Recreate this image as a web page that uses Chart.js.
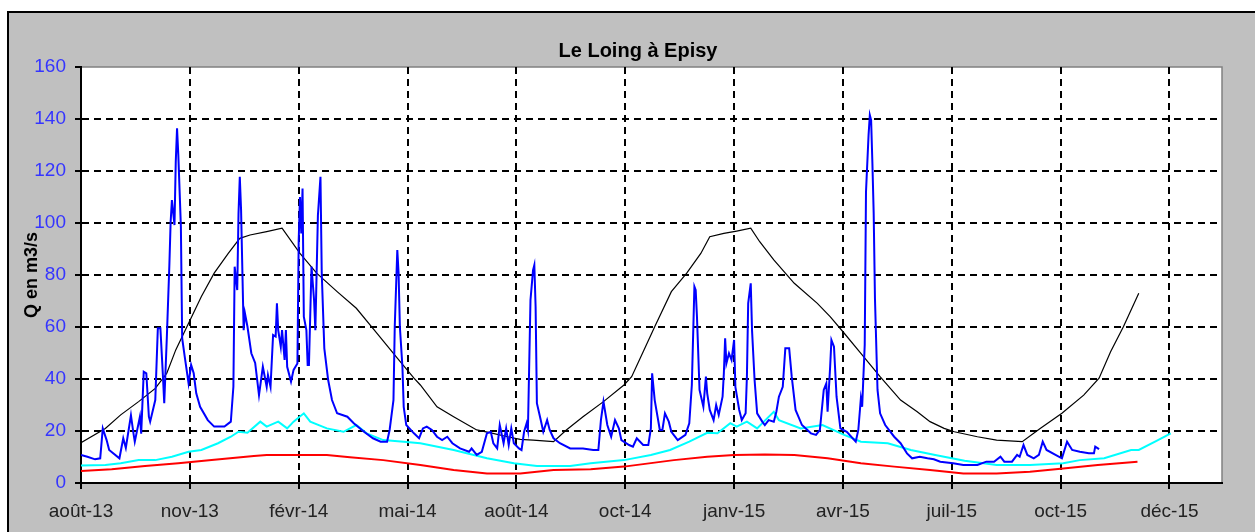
<!DOCTYPE html>
<html>
<head>
<meta charset="utf-8">
<script src="https://cdn.jsdelivr.net/npm/chart.js@4/dist/chart.umd.min.js"></script>
<style>
  body { margin: 0; background: #fff; }
  canvas { display: block; }
</style>
</head>
<body>
<canvas id="myChart" width="1255" height="532"></canvas>
<script>
// x axis: days since the first label, one label every 85 days
const tickLabels = ["août-13", "nov-13", "févr-14", "mai-14", "août-14", "oct-14",
  "janv-15", "avr-15", "juil-15", "oct-15", "déc-15"];
const tickStep = 85;
const dayMax = 891;

// daily flow (blue)
const flowDays = [0, 5, 11, 15, 17, 20, 22, 30, 33, 35, 39, 41, 42, 46, 47, 49, 51, 53, 54, 58,
  60, 62, 64, 65, 67, 69, 70, 71, 73, 74, 75, 76, 78, 79, 81, 84, 86, 88, 90, 93,
  99, 104, 112, 117, 119, 120, 122, 123, 124, 125, 127, 128, 130, 133, 136, 139, 142, 145, 146, 148,
  150, 152, 153, 154, 156, 157, 159, 160, 161, 164, 166, 169, 170, 171, 172, 173, 174, 176, 177, 178,
  180, 182, 183, 185, 187, 188, 190, 193, 196, 200, 208, 213, 221, 228, 234, 239, 241, 244, 245, 247,
  248, 249, 251, 252, 254, 260, 264, 267, 270, 274, 278, 282, 286, 290, 296, 303, 305, 309, 313, 317,
  320, 322, 325, 327, 330, 332, 334, 336, 338, 342, 344, 346, 348, 349, 351, 353, 354, 355, 356, 359,
  361, 364, 366, 369, 374, 382, 392, 400, 404, 406, 408, 411, 414, 417, 420, 422, 428, 431, 434, 439,
  443, 445, 446, 448, 452, 454, 456, 459, 461, 466, 472, 475, 477, 479, 480, 481, 483, 486, 488, 489,
  491, 494, 496, 498, 501, 502, 503, 504, 506, 508, 510, 511, 514, 516, 519, 520, 521, 523, 524, 526,
  528, 532, 534, 537, 541, 543, 545, 548, 550, 553, 555, 558, 563, 570, 574, 577, 580, 582, 583, 585,
  586, 588, 590, 593, 598, 605, 607, 609, 610, 612, 613, 615, 616, 617, 618, 619, 620, 622, 624, 628,
  635, 640, 645, 649, 655, 661, 666, 671, 681, 689, 700, 707, 713, 718, 721, 727, 731, 733, 736, 739,
  744, 748, 751, 754, 761, 766, 770, 774, 780, 787, 791, 792, 795];
const flowValues = [10.8, 10.1, 9.1, 9.5, 21, 16.5, 12.7, 9.5, 17.2, 13.5, 26, 19, 15.9, 25.5, 19, 42.8, 42.2, 25.5, 23.6, 31.9,
  59.5, 59.5, 40.9, 30.7, 55.7, 83.8, 100.5, 108.8, 99.2, 123.6, 136.4, 126, 98.6, 55.7, 48.6, 38.3, 45.4, 42.2, 34.5, 29.3,
  24.2, 21.7, 21.7, 23.6, 37, 83.2, 74.2, 103.7, 117.8, 105, 58.8, 65.3, 60.1, 49.9, 46.2, 33.8, 44.7, 37, 41.5, 37,
  56.9, 56.3, 69.1, 58.8, 52.4, 58.8, 47.3, 58.8, 44.7, 39, 43.5, 46, 93.5, 110, 96, 113.3, 64, 58.8, 45.4, 45.4,
  83.2, 70.4, 58.8, 103, 117.8, 80.7, 51.8, 39.6, 31.9, 26.8, 25.5, 23, 19.7, 17.2, 15.9, 15.9, 20.4, 31.9, 60.1, 89.6,
  80.7, 60.1, 44.7, 29.3, 22.3, 19.1, 17.2, 21, 21.7, 20.4, 17.8, 16.5, 17.8, 15.3, 13.3, 12, 13.3, 10.8, 12, 19.1,
  19.7, 15.3, 13.3, 22.3, 15.3, 21, 14.6, 21, 15.3, 13.3, 12.7, 19.7, 23, 20.4, 70.4, 81.9, 83.8, 67.8, 30.7, 24.2,
  19.7, 24.2, 20.4, 17.2, 15.3, 13.3, 13.3, 12.7, 12.7, 24.2, 31.3, 22.3, 17.8, 24.2, 21, 16.5, 14.6, 14, 17.2, 14.6,
  14.6, 21, 42.2, 31.9, 20.4, 20.4, 26.8, 23.6, 19.7, 16.5, 18.5, 23, 37.7, 75.5, 74.2, 64, 35.8, 29.3, 40.9, 34.5,
  28.1, 24.2, 30, 26.2, 33.2, 42.2, 55.7, 46, 49.9, 47.3, 55, 37, 28.1, 24.2, 26.8, 40.9, 69.1, 76.8, 58.8, 39.6,
  26.8, 23.6, 22.3, 24.2, 23.6, 27.4, 33.2, 37, 51.8, 51.8, 40.9, 28.1, 22.3, 19.1, 18.5, 20.4, 35.8, 38.3, 27.4, 44.7,
  55, 52.4, 33.2, 21, 19.7, 15.9, 20.4, 32.6, 29.3, 53.1, 112, 133.8, 141.5, 139.6, 123, 103.7, 71, 35.8, 26.8, 22.3,
  17.8, 15.3, 11.4, 9.5, 10.1, 9.5, 9.1, 8.2, 7.6, 6.9, 6.9, 8.2, 8.2, 10.1, 8.2, 8.2, 10.8, 10.1, 14.6, 10.8,
  9.5, 10.8, 15.9, 12.7, 10.8, 9.5, 15.9, 12.7, 12, 11.4, 11.4, 14, 13];

// monthly flow (black)
const monthDays = [0, 19, 31, 45, 58, 67, 74, 84, 94, 104, 115, 124, 132, 145, 157, 171, 184, 200, 215, 231,
  247, 260, 265, 278, 291, 309, 320, 333, 343, 353, 369, 379, 392, 408, 424, 430, 439, 448, 461, 473,
  484, 491, 502, 512, 523, 530, 541, 557, 575, 585, 596, 609, 624, 640, 653, 663, 674, 682, 700, 715,
  735, 749, 766, 783, 795, 804, 814, 826];
const monthValues = [15.5, 21, 26.2, 31.3, 36.4, 42.2, 51.2, 61.4, 71.7, 80.7, 88.3, 94.1, 95.4, 96.7, 98, 88.3, 80.7, 73.6, 67.2, 57.6,
  48, 40.3, 37.7, 29.3, 25.5, 20.4, 19.3, 17.8, 16.8, 16.5, 15.9, 20.4, 25.5, 31.3, 37.7, 40.9, 50.5, 60.1, 73.6, 80.7,
  88.3, 94.7, 96, 96.9, 98, 92.8, 85.8, 76.8, 69.1, 64, 57.6, 49.9, 40.9, 31.9, 27.4, 23.6, 21, 19.7, 17.8, 16.5,
  15.9, 21, 26.8, 33.8, 40.3, 50.5, 60.1, 73];

// cyan curve
const cyanDays = [0, 19, 31, 45, 58, 71, 84, 94, 107, 117, 123, 130, 140, 145, 154, 161, 166, 174, 179, 192,
  205, 215, 223, 236, 252, 265, 291, 317, 338, 356, 382, 398, 424, 445, 460, 475, 489, 497, 507, 512,
  520, 528, 534, 541, 545, 562, 579, 596, 609, 630, 648, 667, 690, 715, 741, 767, 780, 799, 820, 826,
  841, 851];
const cyanValues = [6.7, 6.9, 7.6, 8.8, 8.8, 10.1, 12, 12.7, 15.3, 17.8, 19.7, 19.3, 23.6, 21.7, 23.6, 21, 23.6, 26.8, 23.6, 21,
  19.7, 22.3, 19.1, 16.5, 15.9, 15.3, 12.7, 9.5, 7.6, 6.5, 6.5, 7.6, 8.8, 10.8, 12.7, 15.9, 19.3, 19.1, 23, 21.7,
  23.6, 21, 24, 27.4, 24.2, 21, 22.3, 18.5, 15.9, 15.3, 12.7, 10.8, 8.6, 6.9, 6.9, 7.6, 8.8, 9.5, 12.7, 12.7,
  16.5, 19.1];

// red curve
const redDays = [0, 24, 50, 76, 102, 135, 145, 192, 210, 236, 265, 291, 317, 343, 369, 398, 424, 463, 489, 510,
  534, 557, 583, 609, 635, 663, 689, 715, 741, 767, 794, 825];
const redValues = [4.6, 5.3, 6.5, 7.6, 8.8, 10.4, 10.8, 10.8, 9.9, 8.8, 6.9, 5, 3.7, 3.7, 5, 5.3, 6.3, 8.8, 10.1, 10.8,
  11, 10.8, 9.5, 7.6, 6.3, 5, 3.7, 3.7, 4.3, 5.6, 6.9, 8.2];

const yTicks = [0, 20, 40, 60, 80, 100, 120, 140, 160];

function points(days, values) {
  return days.map((d, i) => ({ x: d, y: values[i] }));
}

const font = "Arial, 'Liberation Sans', sans-serif";

const frame = {
  id: "frame",
  beforeDraw(chart) {
    const ctx = chart.ctx;
    const a = chart.chartArea;
    ctx.save();
    ctx.fillStyle = "#c0c0c0";
    ctx.fillRect(8, 12, chart.width - 8, chart.height - 12);
    ctx.strokeStyle = "#000";
    ctx.lineWidth = 2;
    ctx.beginPath();
    ctx.moveTo(8, chart.height);
    ctx.lineTo(8, 12);
    ctx.lineTo(chart.width, 12);
    ctx.stroke();
    ctx.fillStyle = "#fff";
    ctx.fillRect(a.left, a.top, a.right - a.left, a.bottom - a.top);
    ctx.strokeStyle = "#808080";
    ctx.lineWidth = 1.5;
    ctx.strokeRect(a.left, a.top, a.right - a.left, a.bottom - a.top);
    ctx.fillStyle = "#000";
    ctx.font = "bold 20px " + font;
    ctx.textAlign = "center";
    ctx.textBaseline = "middle";
    ctx.fillText("Le Loing à Episy", 638, 51);
    ctx.restore();
  }
};

const gridOpts = {
  color: (c) => (c.tick && c.tick.value === 160 ? "rgba(0,0,0,0)" : "#000"),
  lineWidth: 2,
  tickLength: 6,
  tickColor: "#000",
  tickWidth: 2
};
const borderOpts = { display: true, color: "#000", width: 2, dash: [7, 5] };

new Chart(document.getElementById("myChart"), {
  type: "line",
  data: {
    datasets: [
      { data: points(flowDays, flowValues), borderColor: "#0000ff", borderWidth: 2 },
      { data: points(monthDays, monthValues), borderColor: "#000000", borderWidth: 1.2 },
      { data: points(cyanDays, cyanValues), borderColor: "#00ffff", borderWidth: 2 },
      { data: points(redDays, redValues), borderColor: "#ff0000", borderWidth: 2 }
    ]
  },
  options: {
    responsive: false,
    animation: false,
    events: [],
    elements: { point: { radius: 0 }, line: { tension: 0 } },
    layout: { padding: { top: 67, right: 33, bottom: 0, left: 0 } },
    plugins: { legend: { display: false }, tooltip: { enabled: false } },
    scales: {
      x: {
        type: "linear",
        min: 0,
        max: dayMax,
        afterBuildTicks: (s) => { s.ticks = tickLabels.map((l, i) => ({ value: i * tickStep })); },
        afterFit: (s) => { s.height = 49; },
        ticks: {
          autoSkip: false,
          maxRotation: 0,
          padding: 11,
          color: "#222",
          font: { family: font, size: 19 },
          callback: (v, i) => tickLabels[i]
        },
        grid: gridOpts,
        border: borderOpts
      },
      y: {
        min: 0,
        max: 160,
        afterBuildTicks: (s) => { s.ticks = yTicks.map((v) => ({ value: v })); },
        afterFit: (s) => { s.width = 81; },
        ticks: { padding: 9, color: "#3535ff", font: { family: font, size: 19 } },
        title: {
          display: true,
          text: "Q en m3/s",
          color: "#000",
          font: { family: font, size: 18, weight: "bold" },
          padding: { top: 21, bottom: 0 }
        },
        grid: gridOpts,
        border: borderOpts
      }
    }
  },
  plugins: [frame]
});
</script>
</body>
</html>
